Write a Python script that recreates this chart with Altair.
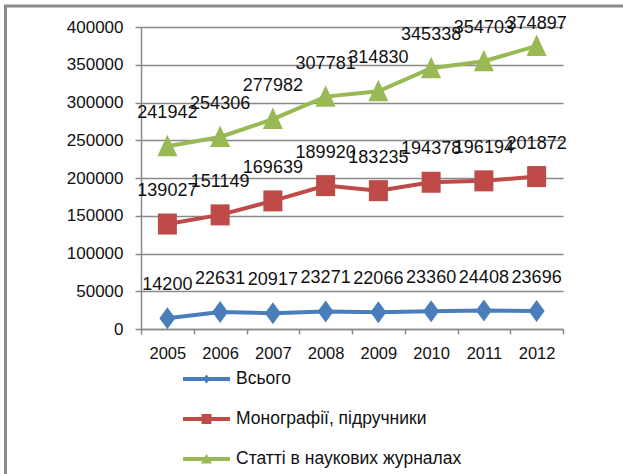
import altair as alt
import pandas as pd

years = ["2005", "2006", "2007", "2008", "2009", "2010", "2011", "2012"]
series_names = ["Всього", "Монографії, підручники", "Статті в наукових журналах"]
vsogo = [14200, 22631, 20917, 23271, 22066, 23360, 24408, 23696]
monographs = [139027, 151149, 169639, 189920, 183235, 194378, 196194, 201872]
articles = [241942, 254306, 277982, 307781, 314830, 345338, 354703, 374897]
colors = ["#4a7ebb", "#be4b48", "#98b954"]

rows = []
for name, vals in zip(series_names, [vsogo, monographs, articles]):
    for y, v in zip(years, vals):
        rows.append({"year": y, "value": v, "series": name})
df = pd.DataFrame(rows)

FONT = "Liberation Sans"

x_enc = alt.X("year:O", scale=alt.Scale(type="band", paddingInner=0, paddingOuter=0),
              axis=alt.Axis(title=None, labelAngle=0, tickBand="extent", tickSize=5,
                            labelPadding=11, labelFontSize=16.5, labelColor="#111",
                            domainColor="#8a8a8a", tickColor="#8a8a8a", labelFont=FONT,
                            domainWidth=1.5, tickWidth=1.5))
y_scale = alt.Scale(domain=[0, 400000], nice=False)
y_axis = alt.Axis(title=None, values=list(range(0, 400001, 50000)), format="d",
                  tickSize=6, labelPadding=12, labelFontSize=17, labelColor="#111",
                  labelFont=FONT, gridColor="#8a8a8a", gridWidth=1.5,
                  domainColor="#8a8a8a", tickColor="#8a8a8a", domainWidth=1.5,
                  tickWidth=1.5)
y_enc = alt.Y("value:Q", scale=y_scale, axis=y_axis)
color_scale = alt.Scale(domain=series_names, range=colors)
color_enc = alt.Color("series:N", scale=color_scale, legend=None)

marker_paths = [
    "M0,-1.1L0.8,0L0,1.1L-0.8,0Z",
    "M-0.95,-1.05L0.95,-1.05L0.95,1.05L-0.95,1.05Z",
    "M0,-1.15L1,1L-1,1Z",
]
line_part = "M-1.567,-0.133L1.567,-0.133L1.567,0.133L-1.567,0.133Z"
legend_paths = [
    line_part + "M0,-0.3L0.25,0L0,0.3L-0.25,0Z",
    line_part + "M-0.33,-0.33L0.33,-0.33L0.33,0.33L-0.33,0.33Z",
    line_part + "M0,-0.35L0.37,0.3L-0.37,0.3Z",
]

base = alt.Chart(df)

lines = base.mark_line(strokeWidth=4).encode(x=x_enc, y=y_enc, color=color_enc)

point_layers = [
    base.transform_filter(alt.datum.series == name).mark_point(
        filled=True, opacity=1, size=400, shape=path
    ).encode(x=x_enc, y=y_enc, color=color_enc)
    for name, path in zip(series_names, marker_paths)
]

labels = base.transform_calculate(
    label_y="min(datum.value + 43700, 404000)"
).mark_text(fontSize=18, font=FONT, color="#111", baseline="middle").encode(
    x=x_enc, y=alt.Y("label_y:Q", scale=y_scale, axis=y_axis),
    text=alt.Text("value:Q", format="d")
)

leg = alt.Legend(title=None, orient="none", legendX=50.5, legendY=337,
                 symbolSize=900, labelOffset=14.5, rowPadding=16,
                 labelFontSize=17.5, labelFont=FONT, labelColor="#111",
                 symbolStrokeWidth=0, padding=0, symbolOpacity=1, labelLimit=400,
                 symbolFillColor=alt.ExprRef("scale('color', datum.value)"))

legend_layer = base.transform_filter("false").mark_point(filled=True, opacity=1).encode(
    x=x_enc, y=y_enc,
    color=alt.Color("series:N", scale=color_scale, legend=None),
    shape=alt.Shape("series:N", scale=alt.Scale(domain=series_names, range=legend_paths),
                    legend=leg),
)

one = alt.Data(values=[{}])
left_border = alt.Chart(one).mark_rule(color="#8c8c8c", strokeWidth=3).encode(
    x=alt.value(-135.5), x2=alt.value(-135.5), y=alt.value(-22), y2=alt.value(447))
top_border = alt.Chart(one).mark_rule(color="#8c8c8c", strokeWidth=3).encode(
    x=alt.value(-137), x2=alt.value(482), y=alt.value(-21), y2=alt.value(-21))

chart = alt.layer(lines, *point_layers, labels, legend_layer, left_border, top_border).resolve_scale(
    shape="independent"
).properties(
    width=422, height=302,
    padding={"left": 141, "top": 27, "right": 60, "bottom": 145},
    autosize="none",
    background="white",
).configure_view(stroke=None)

chart.save("out.html", embed_options={"renderer": "svg", "actions": False})
